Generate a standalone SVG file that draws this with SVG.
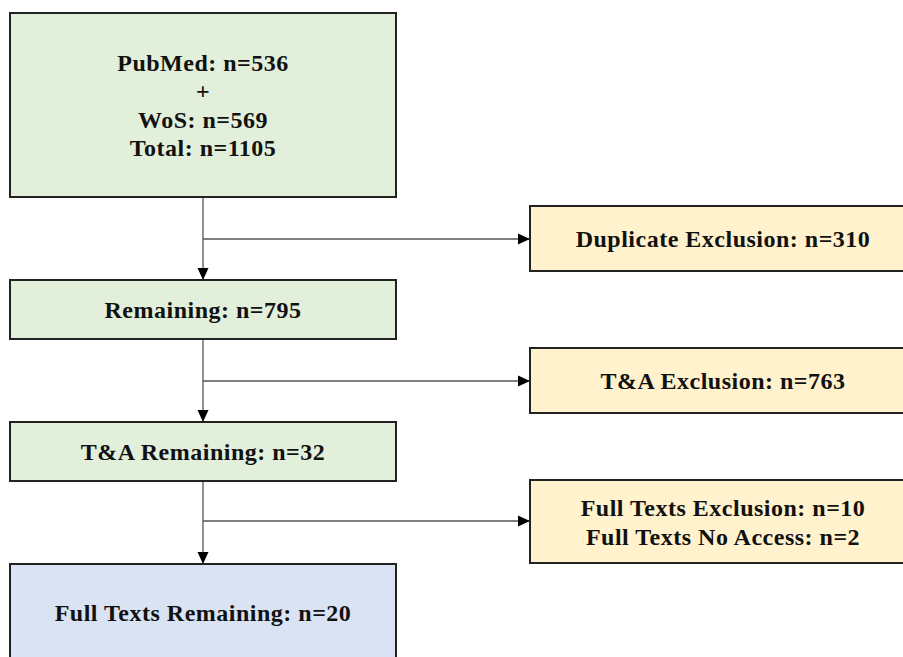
<svg xmlns="http://www.w3.org/2000/svg" width="903" height="657" viewBox="0 0 903 657">
<defs>
<style>
.box{stroke:#222;stroke-width:2}
.g{fill:#e2efda}.y{fill:#fff2cc}.b{fill:#dae3f3}
text{font-family:"Liberation Serif","Times New Roman",serif;font-weight:bold;font-size:24px;letter-spacing:0.5px;fill:#111;text-anchor:middle}
.c{stroke:#555;stroke-width:1.3;fill:none}
</style>
<marker id="ah" markerWidth="12" markerHeight="12" refX="12" refY="6" orient="auto" markerUnits="userSpaceOnUse" viewBox="0 0 12 12">
<path d="M0,0.5 L12,6 L0,11.5 z" fill="#000"/>
</marker>
</defs>
<rect width="903" height="657" fill="#fff"/>
<g id="connectors">
<path class="c" d="M203,197 V280" marker-end="url(#ah)"/>
<path class="c" d="M203,239 H530" marker-end="url(#ah)"/>
<path class="c" d="M203,339 V422" marker-end="url(#ah)"/>
<path class="c" d="M203,381 H530" marker-end="url(#ah)"/>
<path class="c" d="M203,481 V564" marker-end="url(#ah)"/>
<path class="c" d="M203,521 H530" marker-end="url(#ah)"/>
</g>
<g id="n1"><rect class="box g" x="10" y="13" width="386" height="184"/>
<text x="203" y="71">PubMed: n=536</text><text x="203" y="99">+</text><text x="203" y="128">WoS: n=569</text><text x="203" y="156">Total: n=1105</text></g>
<g id="n2"><rect class="box y" x="530" y="206" width="386" height="65"/><text x="723" y="247">Duplicate Exclusion: n=310</text></g>
<g id="n3"><rect class="box g" x="10" y="280" width="386" height="59"/><text x="203" y="318">Remaining: n=795</text></g>
<g id="n4"><rect class="box y" x="530" y="348" width="386" height="65"/><text x="723" y="389">T&amp;A Exclusion: n=763</text></g>
<g id="n5"><rect class="box g" x="10" y="422" width="386" height="59"/><text x="203" y="460">T&amp;A Remaining: n=32</text></g>
<g id="n6"><rect class="box y" x="530" y="480" width="386" height="83"/><text x="723" y="516">Full Texts Exclusion: n=10</text><text x="723" y="545">Full Texts No Access: n=2</text></g>
<g id="n7"><rect class="box b" x="10" y="564" width="386" height="110"/><text x="203" y="621">Full Texts Remaining: n=20</text></g>
</svg>
